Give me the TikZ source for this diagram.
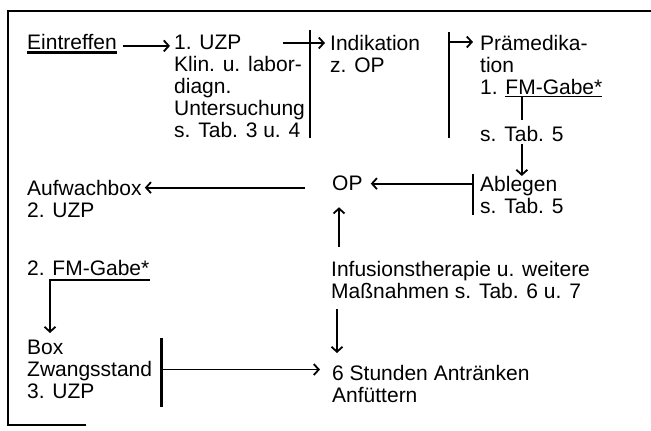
\documentclass[tikz,border=0pt]{standalone}
\usepackage{fontspec}
\setmainfont{Liberation Sans}
\usetikzlibrary{arrows.meta, calc}

\begin{document}
\begin{tikzpicture}[
  x=1pt, y=-1pt,
  font=\fontsize{21}{22}\selectfont,
  txt/.style={anchor=north west, inner sep=0pt, align=left},
  arrow/.style={-{Straight Barb[length=5pt, width=11pt, line width=1.8pt]}, line width=1.9pt},
  bar/.style={line width=2.4pt},
  frame/.style={line width=2.2pt}
]
\useasboundingbox (0,0) rectangle (651,431);
\draw[frame] (651,11) -- (8,11) -- (8,425) -- (86,425);

\node[txt] (eintr) at (27,34) {Eintreffen};
\node[txt] (uzp1) at (174,35) {1. UZP\\Klin. u. labor-\\diagn.\\Untersuchung\\s. Tab. 3 u. 4};
\node[txt] (indik) at (330,35) {Indikation\\z. OP};
\node[txt] (praemed) at (480,35) {Prämedika-\\tion\\1. \underline{FM-Gabe*}};
\node[txt] (tab5) at (480,126) {s. Tab. 5};
\node[txt] (ablegen) at (480,176) {Ablegen\\s. Tab. 5};
\node[txt] (op) at (332,176) {OP};
\node[txt] (aufwach) at (27,180) {Aufwachbox\\2. UZP};
\node[txt] (fm2) at (27,260) {2. FM-Gabe*};
\node[txt] (box) at (27,340) {Box\\Zwangsstand\\3. UZP};
\node[txt] (infus) at (331,261) {Infusionstherapie u. weitere\\Maßnahmen s. Tab. 6 u. 7};
\node[txt] (stunden) at (332,365) {6 Stunden Antränken\\Anfüttern};

\draw[line width=2.8pt] ($(eintr.south west)+(0,3)$) -- ($(eintr.south east)+(0,3)$);
\draw[arrow, shorten <=6pt, shorten >=4pt] ([yshift=-4pt]eintr.east) -- ([yshift=-4pt]eintr.east -| uzp1.west);

\draw[bar] ([xshift=5pt, yshift=5pt]uzp1.north east) -- ([xshift=5pt]uzp1.south east);
\draw[arrow, shorten >=5pt] ([xshift=-22pt, yshift=-8pt]uzp1.north east) -- ([yshift=-8pt]uzp1.north east -| indik.west);

\draw[bar] ([xshift=-31pt, yshift=3pt]praemed.north west) -- ([xshift=-31pt]praemed.north west |- uzp1.south);
\draw[arrow, shorten >=7pt] ([xshift=-31pt, yshift=-7pt]praemed.north west) -- ([yshift=-7pt]praemed.north west);

\draw[line width=1.9pt, shorten >=6pt] (tab5.north |- praemed.south) -- (tab5.north);
\draw[arrow, shorten <=2pt] (tab5.south) -- (tab5.south |- ablegen.north);

\draw[bar] ([xshift=-7pt, yshift=2pt]ablegen.north west) -- ([xshift=-7pt, yshift=-1pt]ablegen.south west);
\draw[arrow, shorten >=8pt] ([xshift=-7pt]ablegen.north west |- op.east) -- (op.east);

\draw[arrow, shorten <=27pt, shorten >=3pt] ([yshift=-4pt]op.west) -- ([yshift=-4pt]op.west -| aufwach.east);

\draw[arrow, shorten <=14pt, shorten >=16pt] ([xshift=8pt]infus.north west) -- ([xshift=8pt]infus.north west |- op.south);
\draw[arrow, shorten <=10pt, shorten >=12pt] ([xshift=6pt]infus.south west) -- ([xshift=6pt]infus.south west |- stunden.north);

\draw[arrow] ([yshift=-4pt]fm2.south east) -| ([xshift=23pt, yshift=7pt]box.north west);

\draw[bar] ([xshift=9pt, yshift=2pt]box.north east) -- ([xshift=9pt, yshift=-8pt]box.south east);
\draw[arrow, shorten <=9pt, shorten >=12pt] (box.east) -- (box.east -| stunden.west);
\end{tikzpicture}
\end{document}
